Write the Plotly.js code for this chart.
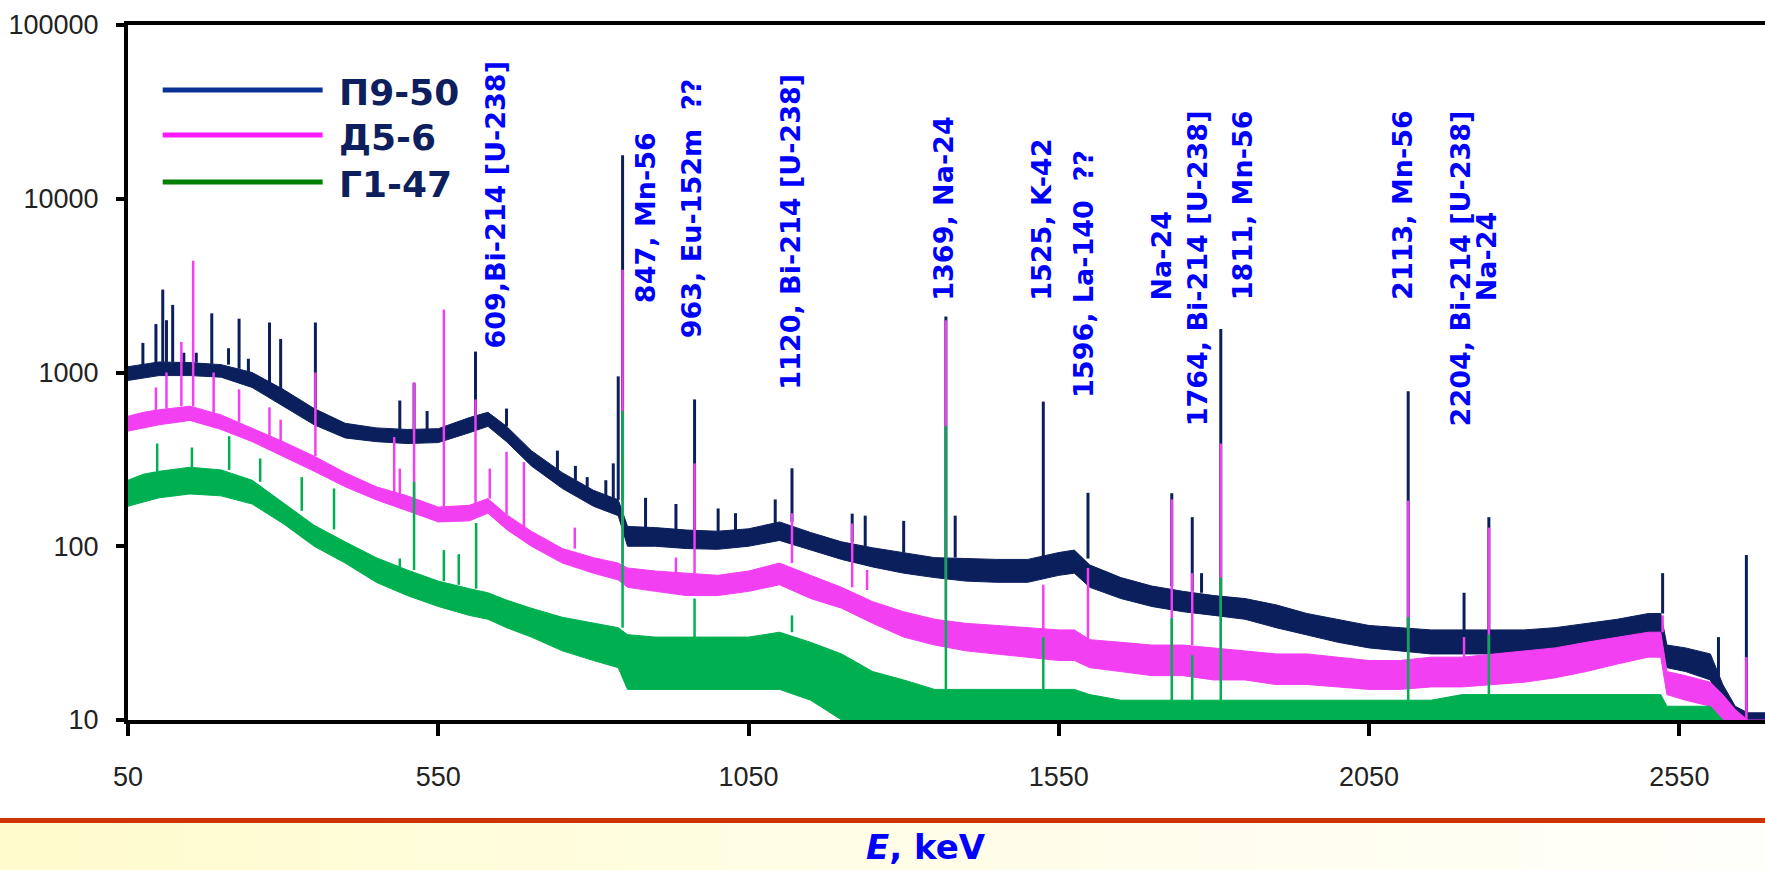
<!DOCTYPE html>
<html>
<head>
<meta charset="utf-8">
<script src="https://cdn.plot.ly/plotly-3.0.1.min.js"></script>
<style>
  html, body { margin:0; padding:0; background:#ffffff; }
  #wrap { position:relative; width:1765px; height:870px; overflow:hidden; background:#ffffff; }
  #rule { position:absolute; left:0; top:818px; width:1765px; height:5px; background:#cc3300; }
  #band { position:absolute; left:0; top:823px; width:1765px; height:47px;
          background:linear-gradient(to right, #fffbcc 0%, #fffde6 50%, #fffffa 100%); }
  #chart { position:absolute; left:0; top:0; width:1765px; height:870px; }
</style>
</head>
<body>
<div id="wrap">
  <div id="rule"></div>
  <div id="band"></div>
  <div id="chart"></div>
</div>
<script>
// ---------------- DATA ----------------
const seriesNames = ['П9-50', 'Д5-6', 'Г1-47'];

// energy grid (keV) for the continuum envelopes
const energy = [50,75,100,150,200,250,300,350,400,450,500,550,600,630,660,700,750,800,840,855,
  900,950,1000,1050,1100,1150,1200,1250,1300,1350,1400,1450,1500,1550,1575,1600,1650,1700,1750,1800,
  1850,1900,1950,2000,2050,2100,2150,2200,2250,2300,2350,2400,2450,2500,2520,2530,2560,2600,2620,2640,
  2660,2688];

// П9-50 continuum band (lower / upper edge of the noise)
const p9Low  = [900,930,960,960,940,820,640,500,420,400,390,395,450,490,400,290,215,170,150,100,
  100,97,96,100,108,95,84,76,70,66,63,62,62,68,70,58,50,45,42,40,
  38,34,31,28,26,25,24,24,24,24,25,27,29,31,31,20,19,17,11,9,
  9,9];
const p9High = [1080,1120,1150,1140,1110,1000,800,620,510,480,470,475,550,590,490,355,265,210,185,130,
  128,124,122,126,138,120,106,98,92,86,85,84,84,92,95,78,66,59,55,52,
  50,46,41,38,35,34,33,33,33,33,34,36,38,41,41,27,26,24,16,12,
  11,11];

// Д5-6 continuum band
const d5Low  = [460,480,500,530,470,400,330,270,220,185,160,138,140,155,125,100,80,70,64,58,
  55,52,52,55,60,50,44,36,30,27,25,24,23,22,22,20,19,18,18,17,
  17,16,16,15.5,15,15,15.5,15.5,16,16.5,17.5,19,21,23,23,14,13,12,10,9,
  8,8];
const d5High = [560,590,610,640,570,480,400,330,265,220,195,168,172,188,152,122,97,86,80,75,
  72,70,68,72,80,68,58,48,42,38,36,35,34,33,33,29,28,27,27,26,
  25,24,24,23,22,22,23,23,24,25,26,28,30,32,32,19,18,16.5,14,11.5,
  10,10];

// Г1-47 continuum band
const g1Low  = [170,180,190,200,195,175,135,100,80,62,52,45,40,38,34,30,25,22,20,15,
  15,15,15,15,15,13,10,8,8,8,8,8,8,8,8,7,7,7,7,7,
  7,7,7,7,7,7,7,7,7,7,7,7,7,7,7,6,6,6,5,5,
  5,5];
const g1High = [240,260,270,285,275,240,178,132,106,86,73,63,57,54,49,44,39,36,34,31,
  30,30,30,30,32,28,24,19,17,15,15,15,15,15,15,14,13,13,13,13,
  13,13,13,13,13,13,13,14,14,14,14,14,14,14,14,12,12,12,10,9,
  9,9];

// photo-peaks: energy, top of the peak, continuum under the peak
const p9PeakE    = [74,95,106,112,122,140,160,185,212,229,244,278,296,352,488,511,532,610,660,742,
  771,790,820,832,840,847,884,933,963,1001,1029,1093,1120,1217,1238,1300,1368,1383,1525,1597,
  1732,1765,1780,1811,2113,2203,2243,2523,2613,2658];
const p9PeakTop  = [1480,1900,3000,2000,2450,1300,1300,2190,1380,2040,1200,1940,1560,1940,690,870,600,1320,620,355,
  290,250,240,300,950,17800,190,175,700,165,155,186,281,154,150,140,2100,150,680,203,
  202,147,70,1780,780,54,147,70,30,89];
const p9PeakBase = [1100,1130,1150,1150,1150,1150,1140,1120,1110,1050,1000,850,800,620,470,470,470,560,490,265,
  240,215,195,185,185,185,127,124,124,122,124,135,138,105,100,92,86,86,84,85,
  59,55,54,52,34,33,33,41,16,11];

const d5PeakE    = [95,112,136,155,188,229,278,296,352,479,488,511,559,610,633,660,688,770,847,933,
  963,1120,1217,1241,1368,1525,1597,1732,1765,1811,2113,2203,2243,2523,2658];
const d5PeakTop  = [820,1000,1500,4400,1000,800,630,535,1000,425,280,880,2300,700,280,350,305,128,3900,86,
  300,155,135,73,2000,60,75,186,70,390,183,30,128,40,23];
const d5PeakBase = [600,620,640,640,570,520,400,390,330,200,195,190,168,172,188,152,125,97,80,70,
  70,80,58,56,38,33,29,27,27,26,22,23,24,32,10];

const g1PeakE    = [97,153,213,263,330,382,488,511,559,583,611,847,963,1120,1368,1525,1732,1765,1811,2113,2243];
const g1PeakTop  = [390,370,430,320,250,215,85,235,95,90,136,600,50,40,490,30,38.6,23.6,66,39,31];
const g1PeakBase = [270,285,275,235,160,125,73,73,63,60,57,34,30,32,15,15,13,13,13,13,13];

// peak identification labels: text, x position (keV), bottom of the label (fraction of plot height)
const labelText = ['609,Bi-214 [U-238]', '847, Mn-56', '963, Eu-152m\u00a0 ??', '1120, Bi-214 [U-238]',
  '1369, Na-24', '1525, K-42', '1596, La-140\u00a0 ??', 'Na-24', '1764, Bi-214 [U-238]', '1811, Mn-56',
  '2113, Mn-56', '2204, Bi-214 [U-238]', 'Na-24'];
const labelE      = [642, 884, 958, 1118, 1364, 1522, 1590, 1715, 1773, 1845, 2104, 2197, 2239];
const labelBottom = [0.532, 0.597, 0.547, 0.472, 0.601, 0.601, 0.460, 0.601, 0.420, 0.601, 0.601, 0.420, 0.600];

const xTicks = [50, 550, 1050, 1550, 2050, 2550];
const xTickText = ['50', '550', '1050', '1550', '2050', '2550'];
const yTicks = [10, 100, 1000, 10000, 100000];
const yTickText = ['10', '100', '1000', '10000', '100000'];

// ---------------- STYLE ----------------
const traceColors  = ['#0b1f5c', '#f23ff2', '#00b050'];
const legendColors = ['#0a3296', '#ff1aff', '#008000'];

function band(lo, hi, color, name) {
  return [
    { x: energy, y: lo, type: 'scatter', mode: 'lines', line: { color: color, width: 1 },
      hoverinfo: 'skip', showlegend: false, name: name },
    { x: energy, y: hi, type: 'scatter', mode: 'lines', line: { color: color, width: 1 },
      fill: 'tonexty', fillcolor: color, name: name, showlegend: false }
  ];
}
function peaks(E, top, base, color, width, name) {
  const x = [], y = [];
  for (let i = 0; i < E.length; i++) {
    x.push(E[i], E[i], null);
    y.push(base[i], top[i], null);
  }
  return { x: x, y: y, type: 'scatter', mode: 'lines', line: { color: color, width: width },
           connectgaps: false, name: name, showlegend: false };
}

const data = [
  ...band(p9Low, p9High, traceColors[0], seriesNames[0]),
  peaks(p9PeakE, p9PeakTop, p9PeakBase, traceColors[0], 3, seriesNames[0]),
  ...band(d5Low, d5High, traceColors[1], seriesNames[1]),
  peaks(d5PeakE, d5PeakTop, d5PeakBase, traceColors[1], 2.5, seriesNames[1]),
  ...band(g1Low, g1High, traceColors[2], seriesNames[2]),
  peaks(g1PeakE, g1PeakTop, g1PeakBase, traceColors[2], 2.5, seriesNames[2])
];

const tickFont = { family: 'Liberation Sans, Arial, sans-serif', size: 27, color: '#222222' };

const annotations = [];
for (let i = 0; i < labelText.length; i++) {
  annotations.push({
    x: labelE[i], xref: 'x', y: labelBottom[i], yref: 'paper',
    text: labelText[i], showarrow: false, textangle: -90,
    xanchor: 'center', yanchor: 'bottom',
    font: { family: 'DejaVu Sans, Verdana, sans-serif', size: 27, color: '#0000ff', weight: 'bold' }
  });
}
// custom legend
const legendY = [0.9065, 0.8417, 0.7741];
const shapes = [];
for (let i = 0; i < seriesNames.length; i++) {
  shapes.push({ type: 'line', xref: 'paper', yref: 'paper', x0: 0.0212, x1: 0.1189,
    y0: legendY[i], y1: legendY[i], line: { color: legendColors[i], width: 5 } });
  annotations.push({ x: 0.1275, xref: 'paper', y: legendY[i] - 0.004, yref: 'paper',
    text: seriesNames[i], showarrow: false, xanchor: 'left', yanchor: 'middle',
    font: { family: 'DejaVu Sans, Verdana, sans-serif', size: 36, color: '#0d1f5c', weight: 'bold' } });
}
// axis title
annotations.push({ x: 0.4873, xref: 'paper', y: -0.183, yref: 'paper',
  text: '<i>E</i>, keV', showarrow: false, xanchor: 'center', yanchor: 'middle',
  font: { family: 'DejaVu Sans, Verdana, sans-serif', size: 34, color: '#0000ff', weight: 'bold' } });

const layout = {
  width: 1765, height: 870,
  margin: { l: 128, r: 0, t: 25, b: 150, pad: 0 },
  paper_bgcolor: 'rgba(0,0,0,0)', plot_bgcolor: '#ffffff',
  showlegend: false,
  xaxis: {
    range: [50, 2688], tickvals: xTicks, ticktext: xTickText,
    ticks: 'outside', ticklen: 12, tickwidth: 4, tickcolor: '#000000',
    showline: true, linewidth: 4, linecolor: '#000000', mirror: true,
    showgrid: false, zeroline: false, tickfont: tickFont, ticklabelstandoff: 18,
    layer: 'below traces'
  },
  yaxis: {
    type: 'log', range: [1, 5], tickvals: yTicks, ticktext: yTickText,
    ticks: 'outside', ticklen: 8, tickwidth: 4, tickcolor: '#000000',
    showline: true, linewidth: 4, linecolor: '#000000',
    showgrid: false, zeroline: false, tickfont: tickFont, ticklabelstandoff: 12
  },
  annotations: annotations,
  shapes: shapes
};

Plotly.newPlot('chart', data, layout, { displayModeBar: false, staticPlot: true });
</script>
</body>
</html>
